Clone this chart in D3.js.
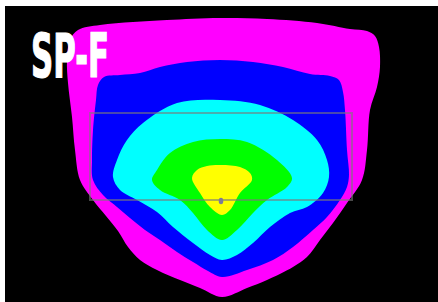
<!DOCTYPE html>
<html>
<head>
<meta charset="utf-8">
<script src="https://cdn.jsdelivr.net/npm/d3@7/dist/d3.min.js"></script>
<style>
  html, body { margin: 0; padding: 0; background: #ffffff; }
  svg { display: block; }
</style>
</head>
<body>
<svg id="chart" width="438" height="302"></svg>
<script>
// ---- data (plate location units; strike zone spans x -13.1..13.1, y 0..8.7) ----
const title = "SP-F";
const levels = ["lowest", "low", "mid", "high", "highest"];
const levelColors = ["#ff00ff", "#0000ff", "#00ffff", "#00ff00", "#ffff00"];

const contourLowest = [
  [-15.1,16.0],[-14.3,17.0],[-12.1,17.5],[-8.8,17.8],[-5.4,18.0],[-0.1,18.2],[4.6,18.1],[9.6,17.7],
  [12.9,17.1],[14.6,16.9],[15.4,16.4],[15.8,15.3],[15.9,13.3],[15.6,11.3],[14.9,9.0],[14.6,5.0],
  [14.1,2.0],[12.6,-0.3],[11.2,-2.3],[9.9,-4.0],[8.6,-5.7],[7.2,-6.7],[4.6,-8.0],[2.6,-8.8],
  [0.1,-9.7],[-2.1,-8.8],[-4.1,-8.0],[-6.4,-7.0],[-8.1,-6.0],[-9.3,-4.7],[-10.3,-3.1],[-11.5,-1.6],
  [-12.8,0.0],[-14.1,2.0],[-14.6,5.0],[-14.9,8.3],[-15.3,11.7],[-15.4,14.0]
];
const contourLow = [
  [-12.3,11.5],[-11.7,12.3],[-10.1,12.5],[-8.1,12.7],[-6.1,13.3],[-3.4,13.8],[-0.1,14.0],[3.2,13.8],
  [6.2,13.3],[8.9,12.6],[10.9,12.4],[11.8,12.0],[12.2,10.8],[12.4,9.0],[12.6,5.0],[12.8,2.5],
  [12.6,1.3],[11.9,0.0],[10.6,-1.7],[9.2,-3.0],[7.2,-4.7],[5.2,-6.0],[2.6,-7.0],[0.1,-7.7],
  [-1.3,-7.1],[-2.8,-6.2],[-4.4,-5.2],[-6.1,-4.0],[-7.6,-3.0],[-9.1,-1.8],[-10.4,-0.7],[-11.8,0.5],
  [-12.8,2.0],[-12.9,4.0],[-12.8,7.0],[-12.5,10.0]
];
const contourMid = [
  [-4.4,9.7],[-0.1,10.0],[3.9,9.5],[7.2,8.0],[9.6,6.0],[10.6,4.0],[10.8,2.3],[10.2,0.7],
  [8.6,-0.7],[6.9,-1.3],[4.9,-2.7],[3.2,-4.3],[1.6,-5.5],[0.1,-6.0],[-1.1,-5.5],[-2.8,-4.3],
  [-4.8,-2.7],[-6.4,-1.2],[-8.4,0.0],[-10.1,1.0],[-10.8,2.3],[-10.4,4.0],[-9.4,6.0],[-7.8,7.7]
];
const contourHigh = [
  [-5.1,4.7],[-2.8,5.8],[-0.1,6.1],[2.6,5.8],[5.6,4.0],[7.1,2.2],[6.6,1.3],[4.6,0.0],
  [3.2,-1.3],[1.6,-3.0],[0.1,-4.0],[-1.4,-3.0],[-2.8,-1.3],[-4.1,0.0],[-6.1,1.0],[-6.9,2.0],[-6.4,3.0]
];
const contourHighest = [
  [-2.4,3.0],[-1.4,3.4],[0.0,3.5],[1.9,3.3],[2.9,2.7],[3.1,2.0],[1.9,0.7],[0.9,-1.0],
  [0.1,-1.5],[-1.1,-0.7],[-2.1,0.7],[-2.9,2.2]
];
const zoneX = [-13.1, 13.1];
const zoneY = [0, 8.7];
const plateCenter = [0, -0.1];

// ---- drawing ----
const svg = d3.select("#chart");
const x = d3.scaleLinear().domain(zoneX).range([90, 352]);
const y = d3.scaleLinear().domain(zoneY).range([200, 113]);

const defs = svg.append("defs");
defs.append("filter").attr("id", "soft")
  .append("feGaussianBlur").attr("stdDeviation", 0.6);

svg.append("rect")
  .attr("x", 5).attr("y", 6).attr("width", 433).attr("height", 296)
  .attr("fill", "#000000");

const contours = [contourLowest, contourLow, contourMid, contourHigh, contourHighest];
const line = d3.line()
  .x(d => x(d[0])).y(d => y(d[1]))
  .curve(d3.curveCatmullRomClosed.alpha(0.5));

svg.append("g").attr("filter", "url(#soft)")
  .selectAll("path")
  .data(contours)
  .join("path")
  .attr("d", d => line(d))
  .attr("fill", (d, i) => levelColors[i]);

// strike zone
svg.append("rect")
  .attr("x", x(zoneX[0])).attr("y", y(zoneY[1]))
  .attr("width", x(zoneX[1]) - x(zoneX[0]))
  .attr("height", y(zoneY[0]) - y(zoneY[1]))
  .attr("fill", "none")
  .attr("stroke", "#7a7a7a")
  .attr("stroke-opacity", 0.6)
  .attr("stroke-width", 2);

// plate center marker
svg.append("ellipse")
  .attr("cx", x(plateCenter[0])).attr("cy", y(plateCenter[1]))
  .attr("rx", 2.3).attr("ry", 3.3)
  .attr("fill", "#7c7c98");

// title
svg.append("text")
  .attr("x", 31).attr("y", 77)
  .attr("fill", "#ffffff")
  .attr("stroke", "#ffffff")
  .attr("stroke-width", 1.2)
  .attr("font-family", "'DejaVu Sans Condensed', 'Liberation Sans Narrow', 'DejaVu Sans', sans-serif")
  .attr("font-weight", "bold")
  .attr("font-size", 60)
  .attr("textLength", 78)
  .attr("lengthAdjust", "spacingAndGlyphs")
  .text(title);
</script>
</body>
</html>
